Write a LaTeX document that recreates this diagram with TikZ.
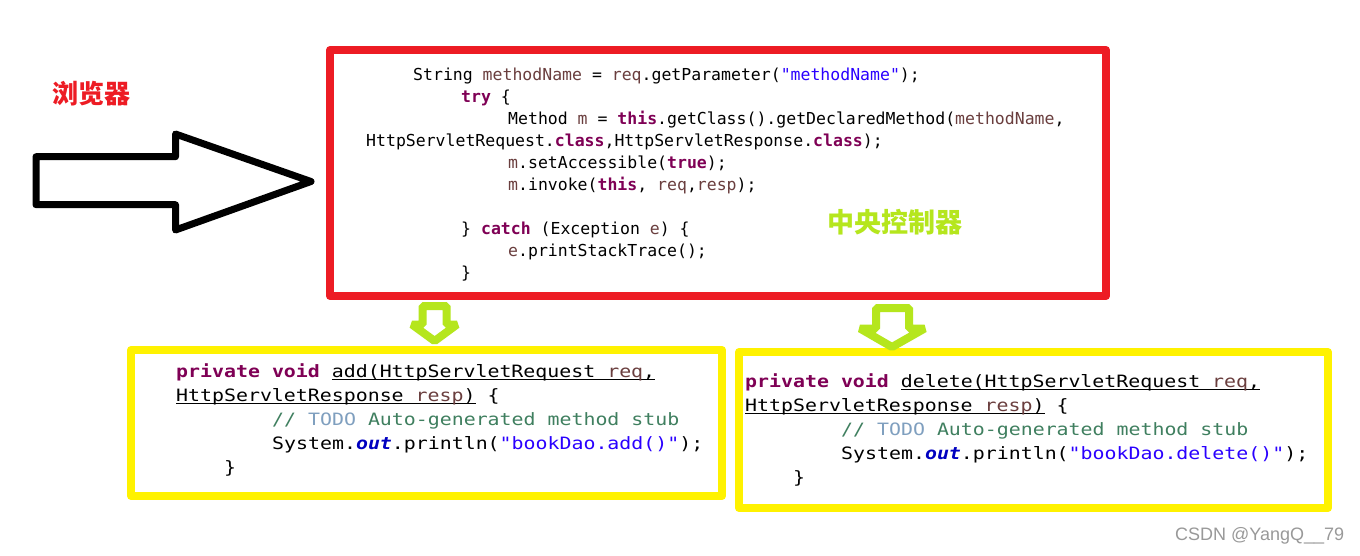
\documentclass[tikz,border=0pt]{standalone}
\usepackage{fontspec}
\setsansfont{Liberation Sans}
\newfontfamily\cjk{Noto Sans CJK SC}
\newfontfamily\codefont{DejaVu Sans Mono}
\newfontfamily\codefontw[FakeStretch=1.17]{DejaVu Sans Mono}

\definecolor{kwpurple}{HTML}{7F0055}
\definecolor{varbrown}{HTML}{6A3E3E}
\definecolor{strblue}{HTML}{2A00FF}
\definecolor{cmtgreen}{HTML}{3F7F5F}
\definecolor{todoblue}{HTML}{7F9FBF}
\definecolor{fldblue}{HTML}{0000C0}
\definecolor{boxred}{HTML}{ED1C24}
\definecolor{boxyellow}{HTML}{FFF200}
\definecolor{limegreen}{HTML}{B5E61D}

\newcommand\jkw[1]{\textcolor{kwpurple}{\bfseries #1}}
\newcommand\jvar[1]{\textcolor{varbrown}{#1}}
\newcommand\jstr[1]{\textcolor{strblue}{#1}}
\newcommand\jcmt[1]{\textcolor{cmtgreen}{#1}}
\newcommand\jtodo[1]{\textcolor{todoblue}{#1}}
\newcommand\jfld[1]{\textcolor{fldblue}{\bfseries\itshape #1}}
% 下划线：紧贴基线
\newcommand\jul[1]{\setbox0\hbox{#1}\rlap{\rule[-2.8pt]{\wd0}{1.2pt}}\box0\relax}

\begin{document}
\begin{tikzpicture}[x=1pt, y=-1pt, line join=round,
  codeline/.style={anchor=base west, inner sep=0pt, font=\codefont\fontsize{16.5}{20}\selectfont},
  codewide/.style={anchor=base west, inner sep=0pt, font=\codefontw\fontsize{17}{24}\selectfont},
  frame/.style={draw, line width=8pt, inner sep=0pt, outer sep=0pt},
  downarrow/.style={draw=limegreen, fill=white, line width=8pt, line join=bevel},
  ]

  %% ════ 底色 ════
  \fill[white] (0,0) rectangle (1360,555);

  %% ════ 三个框 ════
  \node[frame, draw=boxred, minimum width=776pt, minimum height=246pt] (ctrl) at (718,173) {};
  \node[frame, draw=boxyellow, minimum width=591pt, minimum height=146pt] (addbox) at (426.5,423) {};
  \node[frame, draw=boxyellow, minimum width=589pt, minimum height=156pt] (delbox) at (1033.5,430) {};

  %% ════ 左边的大箭头（浏览器 → 中央控制器）════
  \draw[line width=7pt] (36,156.7) -- (175.5,156.7) -- (175.5,134) -- (311,181.5)
    -- (175.5,230) -- (175.5,204.7) -- (36,204.7) -- cycle;

  %% ════ 两个绿色下箭头 ════
  \draw[downarrow] (422.6,306) -- (446.7,306) -- (446.7,324.5) -- (457,324.5)
    -- (434.6,341) -- (412,324.5) -- (422.6,324.5) -- cycle;
  \draw[downarrow] (876,308) -- (909,308) -- (909,328.5) -- (924.6,328.5)
    -- (892,347) -- (860,328.5) -- (876,328.5) -- cycle;

  %% ════ 标签 ════
  \node[inner sep=0pt, text=boxred, font=\cjk\bfseries\fontsize{26}{30}\selectfont] (browser) at (91,94) {浏览器};
  \node[inner sep=0pt, text=limegreen, font=\cjk\bfseries\fontsize{27}{30}\selectfont] (ctrllabel) at (895,222) {中央控制器};

  %% ════ 中央控制器里的代码 ════
  \node[codeline] (m1) at (413,80) {String \jvar{methodName} = \jvar{req}.getParameter(\jstr{"methodName"});};
  \node[codeline] (m2) at (461,102) {\jkw{try} \{};
  \node[codeline] (m3) at (508,124) {Method \jvar{m} = \jkw{this}.getClass().getDeclaredMethod(\jvar{methodName},};
  \node[codeline] (m4) at (366,146) {HttpServletRequest.\jkw{class},HttpServletResponse.\jkw{class});};
  \node[codeline] (m5) at (508,168) {\jvar{m}.setAccessible(\jkw{true});};
  \node[codeline] (m6) at (508,190) {\jvar{m}.invoke(\jkw{this}, \jvar{req},\jvar{resp});};
  \node[codeline] (m7) at (461,234) {\} \jkw{catch} (Exception \jvar{e}) \{};
  \node[codeline] (m8) at (508,256) {\jvar{e}.printStackTrace();};
  \node[codeline] (m9) at (461,278) {\}};

  %% ════ add() ════
  \node[codewide] (a1) at (176,377) {\jkw{private} \jkw{void} \jul{add(HttpServletRequest \jvar{req},}};
  \node[codewide] (a2) at (176,401) {\jul{HttpServletResponse \jvar{resp})} \{};
  \node[codewide] (a3) at (272,425) {\jcmt{// \jtodo{TODO} Auto-generated method stub}};
  \node[codewide] (a4) at (272,449) {System.\jfld{out}.println(\jstr{"bookDao.add()"});};
  \node[codewide] (a5) at (224,473) {\}};

  %% ════ delete() ════
  \node[codewide] (d1) at (745,387) {\jkw{private} \jkw{void} \jul{delete(HttpServletRequest \jvar{req},}};
  \node[codewide] (d2) at (745,411) {\jul{HttpServletResponse \jvar{resp})} \{};
  \node[codewide] (d3) at (841,435) {\jcmt{// \jtodo{TODO} Auto-generated method stub}};
  \node[codewide] (d4) at (841,459) {System.\jfld{out}.println(\jstr{"bookDao.delete()"});};
  \node[codewide] (d5) at (793,483) {\}};

  %% 水印
  \node[anchor=base west, inner sep=0pt, text=black!40, font=\sffamily\fontsize{18}{20}\selectfont] (csdn) at (1175,540) {CSDN @YangQ\_\_79};

  \pgfresetboundingbox
  \path[use as bounding box] (0,0) rectangle (1360,555);
\end{tikzpicture}
\end{document}
